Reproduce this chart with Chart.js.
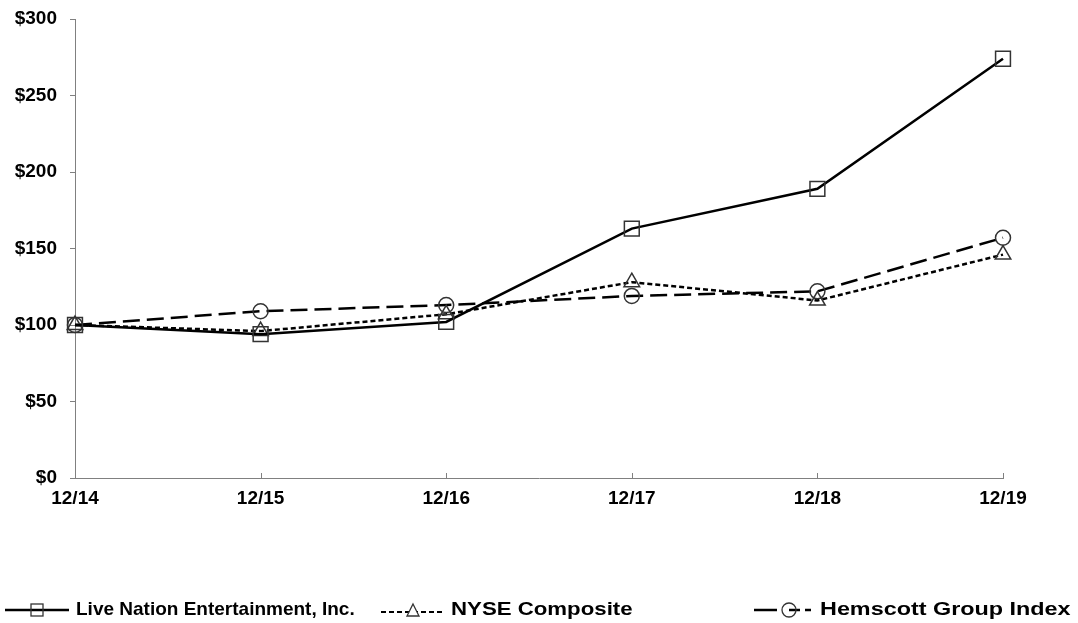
<!DOCTYPE html>
<html>
<head>
<meta charset="utf-8">
<script src="https://cdn.jsdelivr.net/npm/chart.js@4"></script>
<style>
  html, body { margin: 0; padding: 0; background: #fff; }
  #wrap { position: relative; width: 1078px; height: 623px; }
  #legend { position: absolute; left: 0; top: 598px; width: 1078px; height: 26px;
            font: bold 19px "Liberation Sans", Arial, sans-serif; color: #000; }
  .item { position: absolute; top: 0; display: flex; align-items: center; white-space: nowrap; }
  .item svg { margin-right: 5px; }
  .item span { transform-origin: left center; }
</style>
</head>
<body>
<div id="wrap">
  <canvas id="chart" width="1078" height="623"></canvas>
  <div id="legend"></div>
</div>
<script>
const years = ["12/14", "12/15", "12/16", "12/17", "12/18", "12/19"];
const liveNation = [100, 94, 102, 163, 189, 274];
const nyse = [100, 96, 107, 128, 116, 146];
const hemscott = [100, 109, 113, 119, 122, 157];
const yTicks = [0, 50, 100, 150, 200, 250, 300];

const seriesNames = ["Live Nation Entertainment, Inc.", "NYSE Composite", "Hemscott Group Index"];

// small upward tick marks on the x axis
const xTickPlugin = {
  id: "xTicks",
  afterDraw(chart) {
    const ctx = chart.ctx, x = chart.scales.x, area = chart.chartArea;
    ctx.save();
    ctx.strokeStyle = "#808080";
    ctx.lineWidth = 1;
    years.forEach((_, i) => {
      const px = Math.round(x.getPixelForTick(i)) + 0.5;
      ctx.beginPath();
      ctx.moveTo(px, area.bottom);
      ctx.lineTo(px, area.bottom - 5);
      ctx.stroke();
    });
    ctx.restore();
  }
};

const tickFont = { family: "Liberation Sans", size: 19, weight: "bold" };

new Chart(document.getElementById("chart"), {
  type: "line",
  data: {
    labels: years,
    datasets: [
      {
        label: seriesNames[0], data: liveNation,
        borderColor: "#000", borderWidth: 2.5,
        pointStyle: "rect", pointRadius: 10.5, pointBorderWidth: 1.5,
        pointBorderColor: "#333", pointBackgroundColor: "rgba(0,0,0,0)"
      },
      {
        label: seriesNames[1], data: nyse,
        borderColor: "#000", borderWidth: 2.5, borderDash: [5, 3],
        pointStyle: "triangle", pointRadius: 9, pointBorderWidth: 1.5,
        pointBorderColor: "#333", pointBackgroundColor: "rgba(0,0,0,0)"
      },
      {
        label: seriesNames[2], data: hemscott,
        borderColor: "#000", borderWidth: 2.5, borderDash: [17, 7],
        pointStyle: "circle", pointRadius: 7.5, pointBorderWidth: 1.5,
        pointBorderColor: "#333", pointBackgroundColor: "rgba(0,0,0,0)"
      }
    ]
  },
  options: {
    responsive: false,
    animation: false,
    layout: { padding: { top: 19, right: 75, left: 0, bottom: 0 } },
    plugins: { legend: { display: false }, tooltip: { enabled: false } },
    scales: {
      x: {
        offset: false,
        grid: { display: false },
        border: { color: "#808080", width: 1 },
        ticks: { color: "#000", padding: 1, maxRotation: 0, font: tickFont },
        afterFit(s) { s.height = 145; s.paddingLeft = 0; s.paddingRight = 0; }
      },
      y: {
        min: 0, max: 300,
        afterBuildTicks(s) { s.ticks = yTicks.map(v => ({ value: v })); },
        grid: { drawOnChartArea: false, tickLength: 5, color: "#808080" },
        border: { color: "#808080", width: 1 },
        ticks: { color: "#000", padding: 13, font: tickFont, callback: v => "$" + v },
        afterFit(s) { s.width = 75; s.paddingTop = 0; s.paddingBottom = 0; }
      }
    }
  },
  plugins: [xTickPlugin]
});

// legend built from the series names
const symbols = [
  '<svg width="68" height="18"><line x1="2" y1="10" x2="66" y2="10" stroke="#000" stroke-width="2.5"/><rect x="28" y="4" width="12" height="12" fill="none" stroke="#333" stroke-width="1.3"/></svg>',
  '<svg width="66" height="18"><line x1="1" y1="12" x2="65" y2="12" stroke="#000" stroke-width="2" stroke-dasharray="5,3"/><polygon points="33,4 39,16 27,16" fill="#fff" stroke="#333" stroke-width="1.3"/></svg>',
  '<svg width="62" height="18"><line x1="1" y1="10" x2="24" y2="10" stroke="#000" stroke-width="2.5"/><line x1="36" y1="10" x2="47" y2="10" stroke="#000" stroke-width="2.5"/><line x1="52" y1="10" x2="58" y2="10" stroke="#000" stroke-width="2.5"/><circle cx="36" cy="10" r="7" fill="none" stroke="#333" stroke-width="1.3"/></svg>'
];
const legendX = [3, 380, 753];
const legendStretch = [1, 1.17, 1.23];
const legend = document.getElementById("legend");
seriesNames.forEach((name, i) => {
  const el = document.createElement("div");
  el.className = "item";
  el.style.left = legendX[i] + "px";
  el.innerHTML = symbols[i] + '<span style="transform:scaleX(' + legendStretch[i] + ')">' + name + "</span>";
  legend.appendChild(el);
});
</script>
</body>
</html>
